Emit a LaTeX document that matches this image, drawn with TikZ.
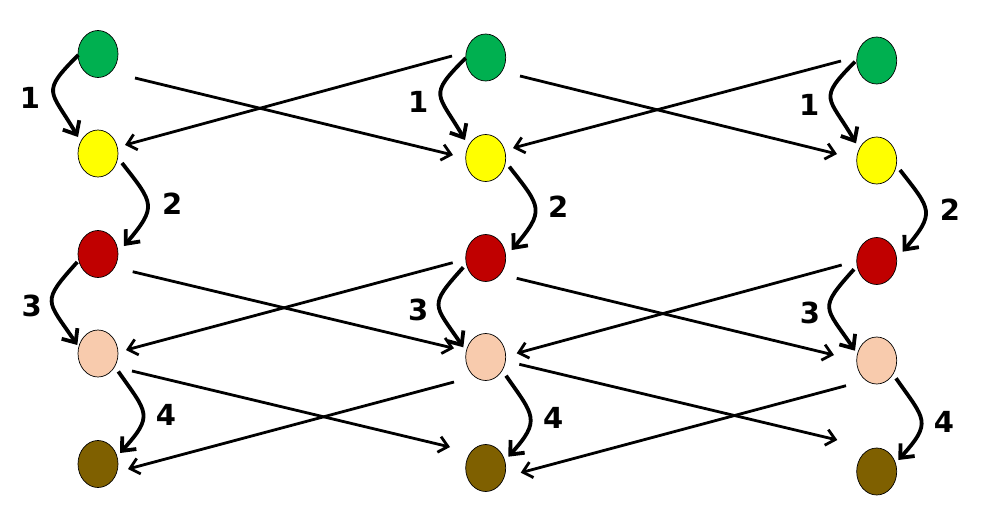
\documentclass[tikz,border=0pt]{standalone}
\usepackage{fontspec}
\newfontfamily\numfont{DejaVu Sans}
\usetikzlibrary{calc,arrows.meta,shapes.geometric}
\definecolor{ballgreen}{RGB}{0,176,80}
\definecolor{ballyellow}{RGB}{255,255,0}
\definecolor{ballred}{RGB}{192,0,0}
\definecolor{ballpeach}{RGB}{248,203,173}
\definecolor{ballbrown}{RGB}{127,96,0}
\tikzset{
	ball/.style={ellipse, draw=black, line width=0.7pt, minimum width=40pt, minimum height=47pt, inner sep=0pt},
	jump/.style={line width=2.8pt, -{Straight Barb[length=9pt,width=16pt]}},
	curl/.style={line width=3.8pt, -{Straight Barb[length=11pt,width=19pt]}},
	lbl/.style={font=\numfont\bfseries\fontsize{29}{30}\selectfont, inner sep=0pt}
}

\begin{document}
\begin{tikzpicture}[x=1pt, y=1pt]
			%%%%% START %%%%%
			\useasboundingbox (0, 0) rectangle (987, -530);
			
			\node[ball, fill=ballgreen] (g1) at (98, -54) {};
			\node[ball, fill=ballyellow] (y1) at (98, -153.5) {};
			\node[ball, fill=ballred] (r1) at (98, -254) {};
			\node[ball, fill=ballpeach] (p1) at (98, -353.5) {};
			\node[ball, fill=ballbrown] (b1) at (98, -464) {};
			
			\node[ball, fill=ballgreen] (g2) at (485.7, -57.5) {};
			\node[ball, fill=ballyellow] (y2) at (485.7, -158) {};
			\node[ball, fill=ballred] (r2) at (485.7, -258) {};
			\node[ball, fill=ballpeach] (p2) at (485.7, -357) {};
			\node[ball, fill=ballbrown] (b2) at (485.7, -468) {};
			
			\node[ball, fill=ballgreen] (g3) at (876.7, -60.5) {};
			\node[ball, fill=ballyellow] (y3) at (876.7, -160.5) {};
			\node[ball, fill=ballred] (r3) at (876.7, -261) {};
			\node[ball, fill=ballpeach] (p3) at (876.7, -360.5) {};
			\node[ball, fill=ballbrown] (b3) at (876.7, -471.5) {};
			
			% steps inside each column
			\draw[curl] ($(g1)+(-19.7, -1)$) to[out=225, in=120, looseness=1.7] ($(y1)+(-20, 16.5)$);
			\draw[curl] ($(y1)+(24, -9.5)$) to[out=-52, in=50, looseness=1.6] ($(r1)+(26, 8)$);
			\draw[curl] ($(r1)+(-20.7, -8)$) to[out=228, in=124, looseness=1.7] ($(p1)+(-20.7, 8.5)$);
			\draw[curl] ($(p1)+(20.3, -18)$) to[out=-55, in=48, looseness=1.6] ($(b1)+(22, 11)$);
			
			\draw[curl] ($(g2)+(-20, -0.5)$) to[out=225, in=120, looseness=1.7] ($(y2)+(-20.7, 18)$);
			\draw[curl] ($(y2)+(23.6, -8.7)$) to[out=-52, in=50, looseness=1.6] ($(r2)+(26, 8)$);
			\draw[curl] ($(r2)+(-22.4, -9.3)$) to[out=228, in=124, looseness=1.7] ($(p2)+(-22.4, 9.7)$);
			\draw[curl] ($(p2)+(20.3, -18.7)$) to[out=-55, in=48, looseness=1.55] ($(b2)+(22.6, 11.3)$);
			
			\draw[curl] ($(g3)+(-21.7, -1.2)$) to[out=225, in=120, looseness=1.7] ($(y3)+(-20.7, 17.2)$);
			\draw[curl] ($(y3)+(23.3, -9.5)$) to[out=-52, in=50, looseness=1.6] ($(r3)+(26, 9.3)$);
			\draw[curl] ($(r3)+(-22.7, -8.3)$) to[out=228, in=124, looseness=1.7] ($(p3)+(-21.7, 9.8)$);
			\draw[curl] ($(p3)+(19.3, -17.8)$) to[out=-55, in=48, looseness=1.6] ($(b3)+(21.6, 11.5)$);
			
			% hops between columns
			\draw[jump] ($(g1)+(37, -24)$) -- ($(y2)+(-32.7, 3)$);
			\draw[jump] ($(g2)+(-33.7, 1.5)$) -- ($(y1)+(27, 8.5)$);
			\draw[jump] ($(g2)+(34.3, -18.5)$) -- ($(y3)+(-39.7, 6.5)$);
			\draw[jump] ($(g3)+(-35.7, -0.5)$) -- ($(y2)+(27.3, 10)$);
			
			\draw[jump] ($(r1)+(34.7, -17.7)$) -- ($(p2)+(-31.7, 8.7)$);
			\draw[jump] ($(r2)+(-33, -4.7)$) -- ($(p1)+(28, 3.5)$);
			\draw[jump] ($(r2)+(31, -20.3)$) -- ($(p3)+(-42.7, 5.5)$);
			\draw[jump] ($(r3)+(-35, -4)$) -- ($(p2)+(31, 3.7)$);
			
			\draw[jump] ($(p1)+(34, -17.5)$) -- ($(b2)+(-35.7, 21)$);
			\draw[jump] ($(p2)+(-31.7, -25)$) -- ($(b1)+(30, -5)$);
			\draw[jump] ($(p2)+(33.6, -7.3)$) -- ($(b3)+(-39.4, 31.5)$);
			\draw[jump] ($(p3)+(-30.7, -25.2)$) -- ($(b2)+(35, -4.7)$);
			
			% step numbers
			\node[lbl] (one1) at (30, -98) {1};
			\node[lbl] (two1) at (172.3, -203.3) {2};
			\node[lbl] (three1) at (31.7, -306) {3};
			\node[lbl] (four1) at (166, -415) {4};
			
			\node[lbl] (one2) at (418.3, -101.7) {1};
			\node[lbl] (two2) at (558.3, -206.7) {2};
			\node[lbl] (three2) at (418.3, -310) {3};
			\node[lbl] (four2) at (553.3, -418.3) {4};
			
			\node[lbl] (one3) at (809.3, -105) {1};
			\node[lbl] (two3) at (950, -210) {2};
			\node[lbl] (three3) at (810, -313.3) {3};
			\node[lbl] (four3) at (944, -421.7) {4};
			
			%%%%% END %%%%%
\end{tikzpicture}
\end{document}
